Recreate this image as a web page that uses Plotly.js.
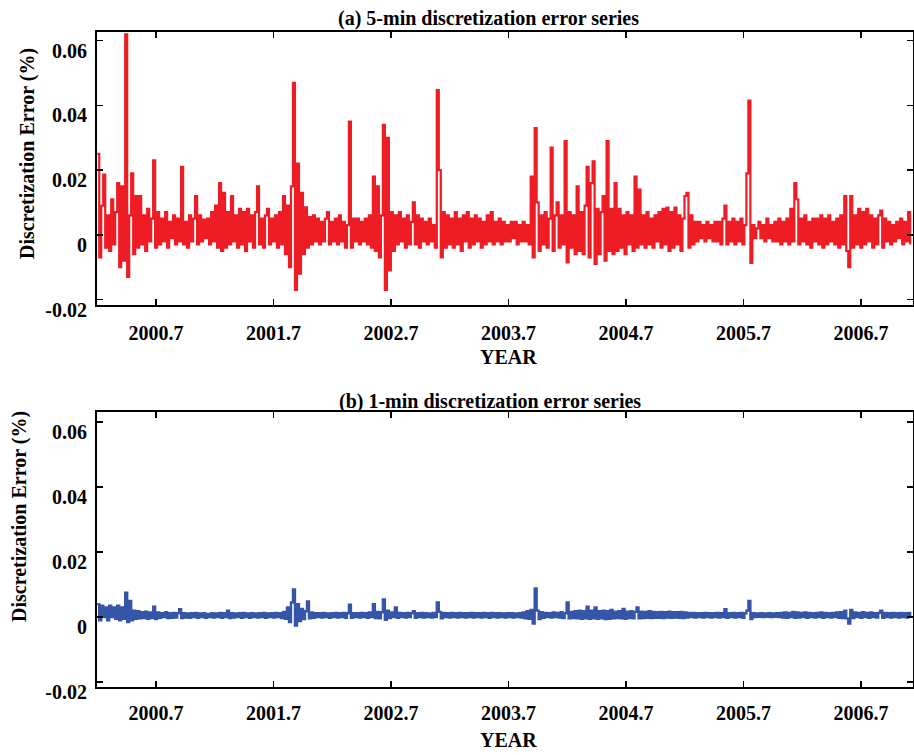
<!DOCTYPE html>
<html>
<head>
<meta charset="utf-8">
<script src="https://cdn.plot.ly/plotly-3.0.1.min.js"></script>
<style>html,body{margin:0;padding:0;background:#fff;}#chart{width:914px;height:755px;}</style>
</head>
<body>
<div id="chart"></div>
<script>
// ---- data ----
const yearStart = 2000.20;   // first observation (decimal year)
const yearStep = 0.017;      // sampling interval (decimal year)
const tickYears = [2000.7, 2001.7, 2002.7, 2003.7, 2004.7, 2005.7, 2006.7];
const tickYearLabels = ["2000.7", "2001.7", "2002.7", "2003.7", "2004.7", "2005.7", "2006.7"];
const yTickVals = [-0.02, 0, 0.02, 0.04, 0.06];
const yTickLabels = ["-0.02", "0", "0.02", "0.04", "0.06"];

// (a) 5-min discretization error (%)
const err5min = [
0.025,-0.007,0.009,0.0186,-0.004,0.006,-0.005,0.011,-0.003,0.007,
0.016,-0.010,0.015,-0.008,0.062,-0.013,0.006,0.019,-0.006,0.012,
-0.004,0.012,-0.003,0.006,-0.005,0.008,-0.002,0.005,0.023,-0.004,
0.007,-0.003,0.005,-0.002,0.007,-0.004,0.004,-0.001,0.006,-0.003,
0.005,-0.002,0.021,-0.003,0.004,-0.004,0.006,-0.002,0.005,0.012,
-0.003,0.006,-0.002,0.0047,-0.001,0.005,-0.003,0.007,-0.002,0.009,
-0.004,0.016,-0.005,0.013,-0.004,0.007,-0.003,0.012,-0.002,0.006,
-0.004,0.008,-0.003,0.007,-0.005,0.008,-0.002,0.006,-0.004,0.007,
0.015,-0.003,0.005,-0.004,0.006,0.008,-0.003,0.005,-0.002,0.006,
-0.004,0.007,-0.003,0.012,-0.006,0.009,-0.010,0.015,0.047,-0.017,
0.022,-0.012,0.013,-0.006,0.0085,-0.004,0.0055,-0.003,0.006,-0.002,
0.005,-0.003,0.004,-0.002,0.005,0.007,-0.003,0.004,-0.002,0.005,
-0.003,0.006,-0.002,0.004,-0.004,0.003,0.035,-0.004,0.005,-0.002,
0.005,-0.003,0.004,-0.002,0.005,-0.003,0.006,-0.004,0.018,-0.005,
0.015,-0.007,0.006,0.034,-0.017,0.030,-0.011,0.007,-0.005,0.006,
-0.003,0.007,-0.002,0.005,-0.004,0.006,-0.003,0.004,0.010,-0.003,
0.006,-0.004,0.005,-0.002,0.004,-0.003,0.005,-0.002,0.003,-0.004,
0.0447,0.020,-0.007,0.007,-0.004,0.006,-0.003,0.005,-0.004,0.007,
-0.003,0.005,-0.005,0.006,-0.002,0.007,-0.004,0.005,-0.003,0.006,
-0.002,0.005,-0.004,0.004,-0.003,0.006,-0.002,0.007,-0.003,0.004,
-0.002,0.005,-0.003,0.004,-0.002,0.003,-0.002,0.004,-0.001,0.004,
-0.003,0.003,-0.002,0.004,-0.002,0.003,-0.003,0.018,-0.007,0.033,
0.010,-0.005,0.006,-0.003,0.007,-0.004,0.005,0.027,-0.005,0.006,
0.010,-0.004,0.006,-0.003,0.029,-0.0085,0.007,-0.004,0.006,-0.006,
0.015,-0.005,0.007,-0.006,0.009,0.021,-0.007,0.016,0.0227,-0.009,
0.008,-0.006,0.007,0.012,-0.008,0.029,-0.005,0.008,-0.006,0.016,
-0.005,0.008,-0.004,0.006,-0.006,0.007,-0.003,0.006,-0.005,0.018,
-0.004,0.014,-0.003,0.006,-0.004,0.007,-0.003,0.005,-0.004,0.006,
-0.002,0.007,-0.004,0.008,-0.003,0.0084,-0.005,0.007,-0.004,0.0084,
-0.003,0.006,-0.005,0.005,0.012,0.013,-0.004,0.006,-0.003,0.004,
-0.002,0.004,-0.001,0.003,-0.002,0.004,-0.001,0.003,-0.002,0.004,
-0.002,0.004,-0.003,0.005,0.009,-0.003,0.004,-0.002,0.005,-0.003,
0.004,-0.002,0.005,-0.003,0.003,0.019,0.0415,-0.0087,0.003,-0.001,
0.002,0.004,-0.001,0.003,-0.002,0.005,-0.001,0.003,-0.002,0.004,
-0.002,0.005,-0.003,0.004,-0.002,0.005,-0.003,0.008,-0.002,0.016,
0.011,-0.003,0.005,-0.002,0.006,-0.003,0.004,-0.004,0.005,-0.002,
0.005,-0.003,0.006,-0.004,0.005,-0.003,0.006,-0.002,0.004,-0.003,
0.005,-0.004,0.006,-0.003,0.012,-0.005,-0.010,0.012,-0.004,0.006,
-0.003,0.008,-0.004,0.007,-0.003,0.008,-0.002,0.006,-0.004,0.005,
-0.003,0.006,0.0075,-0.004,0.005,-0.002,0.004,-0.003,0.003,-0.002,
0.004,-0.001,0.005,-0.003,0.004,-0.002,0.007,-0.003
];

// (b) 1-min discretization error (%)
const err1min = [
0.004,-0.001,0.0035,0.000,0.003,-0.001,0.0035,0.000,0.003,-0.0005,
0.0035,-0.001,0.003,-0.0005,0.0075,-0.0015,0.005,-0.001,0.002,-0.0005,
0.0018,-0.0004,0.0015,-0.0003,0.0017,-0.0005,0.0014,-0.0003,0.0032,-0.0006,
0.0014,-0.0002,0.0012,0.0000,0.0015,-0.0003,0.0012,-0.0002,0.0013,-0.0001,
0.0012,0.0024,-0.0003,0.0012,-0.0001,0.0011,-0.0002,0.0012,0.0000,0.0013,
-0.0002,0.0011,0.0000,0.0012,-0.0002,0.0010,0.0000,0.0012,-0.0001,0.0011,
0.0000,0.0013,-0.0002,0.0012,0.0000,0.0020,-0.0003,0.0012,-0.0001,0.0011,
0.0000,0.0012,-0.0002,0.0013,0.0000,0.0011,-0.0002,0.0012,0.0000,0.0011,
-0.0001,0.0012,0.0000,0.0013,-0.0002,0.0011,0.0000,0.0012,-0.0001,0.0013,
0.0000,0.0012,-0.0003,0.0016,-0.0005,0.0030,-0.0015,0.0045,0.0085,-0.0026,
0.0040,-0.0012,0.0025,-0.0006,0.0018,0.0048,-0.0004,0.0014,-0.0002,0.0012,
0.0000,0.0012,-0.0001,0.0013,0.0000,0.0011,-0.0002,0.0012,0.0000,0.0013,
-0.0001,0.0012,0.0000,0.0013,-0.0002,0.0012,0.0038,-0.0002,0.0012,0.0000,
0.0012,-0.0001,0.0013,0.0000,0.0012,-0.0002,0.0014,0.0000,0.0040,-0.0003,
0.0016,-0.0004,0.0015,0.0054,-0.0008,0.0020,-0.0003,0.0014,0.0000,0.0030,
-0.0002,0.0013,0.0000,0.0012,-0.0001,0.0013,0.0000,0.0012,0.0018,-0.0002,
0.0012,0.0000,0.0013,-0.0001,0.0012,0.0000,0.0011,-0.0001,0.0013,0.0000,
0.0045,0.0016,-0.0004,0.0013,0.0000,0.0012,-0.0001,0.0013,0.0000,0.0012,
-0.0001,0.0013,0.0000,0.0012,-0.0001,0.0012,0.0000,0.0013,-0.0001,0.0012,
0.0000,0.0012,-0.0001,0.0013,0.0000,0.0012,-0.0002,0.0013,0.0000,0.0012,
-0.0001,0.0012,0.0000,0.0011,-0.0001,0.0012,0.0000,0.0012,-0.0001,0.0011,
0.0000,0.0012,-0.0001,0.0014,-0.0004,0.0018,-0.0005,0.0022,-0.0020,0.0088,
0.0020,-0.0006,0.0015,-0.0002,0.0013,0.0000,0.0012,-0.0001,0.0014,0.0000,
0.0013,-0.0001,0.0015,-0.0003,0.0012,0.0045,-0.0004,0.0016,-0.0003,0.0018,
-0.0004,0.0020,-0.0005,0.0018,-0.0004,0.0032,-0.0005,0.0020,-0.0004,0.0030,
-0.0005,0.0018,-0.0004,0.0020,-0.0006,0.0018,-0.0005,0.0022,-0.0004,0.0017,
-0.0003,0.0018,-0.0004,0.0025,-0.0005,0.0017,-0.0003,0.0018,-0.0004,0.0016,
0.0030,-0.0004,0.0017,-0.0003,0.0016,-0.0002,0.0018,-0.0003,0.0016,-0.0002,
0.0015,-0.0002,0.0016,-0.0003,0.0015,-0.0001,0.0017,-0.0002,0.0015,-0.0001,
0.0015,-0.0002,0.0016,-0.0003,0.0014,-0.0001,0.0013,0.0000,0.0013,-0.0001,
0.0012,0.0000,0.0012,-0.0001,0.0013,0.0000,0.0012,-0.0001,0.0012,0.0000,
0.0013,-0.0001,0.0012,0.0000,0.0024,-0.0002,0.0012,0.0000,0.0013,-0.0001,
0.0012,0.0000,0.0013,-0.0002,0.0012,0.0020,0.0050,-0.0006,0.0012,0.0000,
0.0011,0.0001,0.0012,0.0000,0.0011,0.0001,0.0012,0.0000,0.0011,0.0001,
0.0012,0.0000,0.0013,-0.0001,0.0014,-0.0002,0.0013,0.0000,0.0016,-0.0002,
0.0014,-0.0001,0.0013,0.0000,0.0014,-0.0002,0.0013,0.0000,0.0012,-0.0001,
0.0013,0.0000,0.0014,-0.0002,0.0013,0.0000,0.0012,-0.0001,0.0013,0.0000,
0.0014,-0.0002,0.0015,-0.0003,0.0020,-0.0004,-0.0020,0.0022,-0.0003,0.0014,
0.0000,0.0013,-0.0002,0.0015,0.0000,0.0013,-0.0002,0.0014,0.0000,0.0012,
-0.0001,0.0013,0.0020,-0.0002,0.0013,0.0000,0.0012,-0.0001,0.0013,0.0000,
0.0012,-0.0001,0.0013,0.0000,0.0012,-0.0001,0.0013,0.0000
];

// ---- build ----
const years5 = err5min.map((_, i) => yearStart + i * yearStep);
const years1 = err1min.map((_, i) => yearStart + i * yearStep);

const W = 914, H = 755;
const px = v => v / W;            // pixel -> paper x
const py = v => (H - v) / H;      // pixel -> paper y

const serif = "Liberation Serif, Times New Roman, serif";
const tickFont = {family: serif, size: 20, color: "#000", weight: "bold"};

function xAxis(domainAnchor, standoff) {
  return {
    domain: [px(97), px(913)],
    range: [2000.198, 2007.143],
    anchor: domainAnchor,
    tickmode: "array", tickvals: tickYears, ticktext: tickYearLabels,
    ticks: "inside", ticklen: 6, tickwidth: 1.5, tickcolor: "#000",
    showline: true, linecolor: "#000", linewidth: 2, mirror: "ticks",
    showgrid: false, zeroline: false,
    tickfont: tickFont, ticklabelstandoff: standoff,
    fixedrange: true
  };
}
function yAxis(domain, anchor, range) {
  return {
    domain: domain,
    range: range,
    anchor: anchor,
    tickmode: "array", tickvals: yTickVals, ticktext: yTickLabels,
    ticks: "inside", ticklen: 6, tickwidth: 1.5, tickcolor: "#000",
    showline: true, linecolor: "#000", linewidth: 2, mirror: "ticks",
    showgrid: false, zeroline: false,
    tickfont: tickFont, ticklabelshift: 10, ticklabelstandoff: 4,
    fixedrange: true
  };
}

const traces = [
  {x: years5, y: err5min, type: "scatter", mode: "lines", xaxis: "x", yaxis: "y",
   line: {color: "#ee1c24", width: 2.2, shape: "hv"}, hoverinfo: "skip", showlegend: false},
  {x: years1, y: err1min, type: "scatter", mode: "lines", xaxis: "x2", yaxis: "y2",
   line: {color: "#3556a8", width: 2.4, shape: "hv"}, hoverinfo: "skip", showlegend: false}
];

const titleFont = {family: serif, size: 20, color: "#000", weight: "bold"};
const annotations = [
  {text: "(a) 5-min discretization error series", x: px(488), y: py(18)},
  {text: "(b) 1-min discretization error series", x: px(490), y: py(402)},
  {text: "YEAR", x: px(508), y: py(357)},
  {text: "YEAR", x: px(508), y: py(740)},
  {text: "Discretization Error (%)", x: px(27), y: py(154), textangle: -90},
  {text: "Discretization Error (%)", x: px(19), y: py(517), textangle: -90}
].map(a => Object.assign({xref: "paper", yref: "paper", showarrow: false,
  xanchor: "center", yanchor: "middle", font: titleFont}, a));

const layout = {
  width: W, height: H,
  margin: {l: 0, r: 0, t: 0, b: 0},
  paper_bgcolor: "#fff", plot_bgcolor: "#fff",
  showlegend: false,
  xaxis: xAxis("y", 9),
  yaxis: yAxis([py(305), py(32)], "x", [-0.0217, 0.0627]),
  xaxis2: xAxis("y2", 7),
  yaxis2: yAxis([py(687), py(412)], "x2", [-0.0215, 0.0631]),
  annotations: annotations
};

Plotly.newPlot("chart", traces, layout, {displayModeBar: false, staticPlot: true});
</script>
</body>
</html>
